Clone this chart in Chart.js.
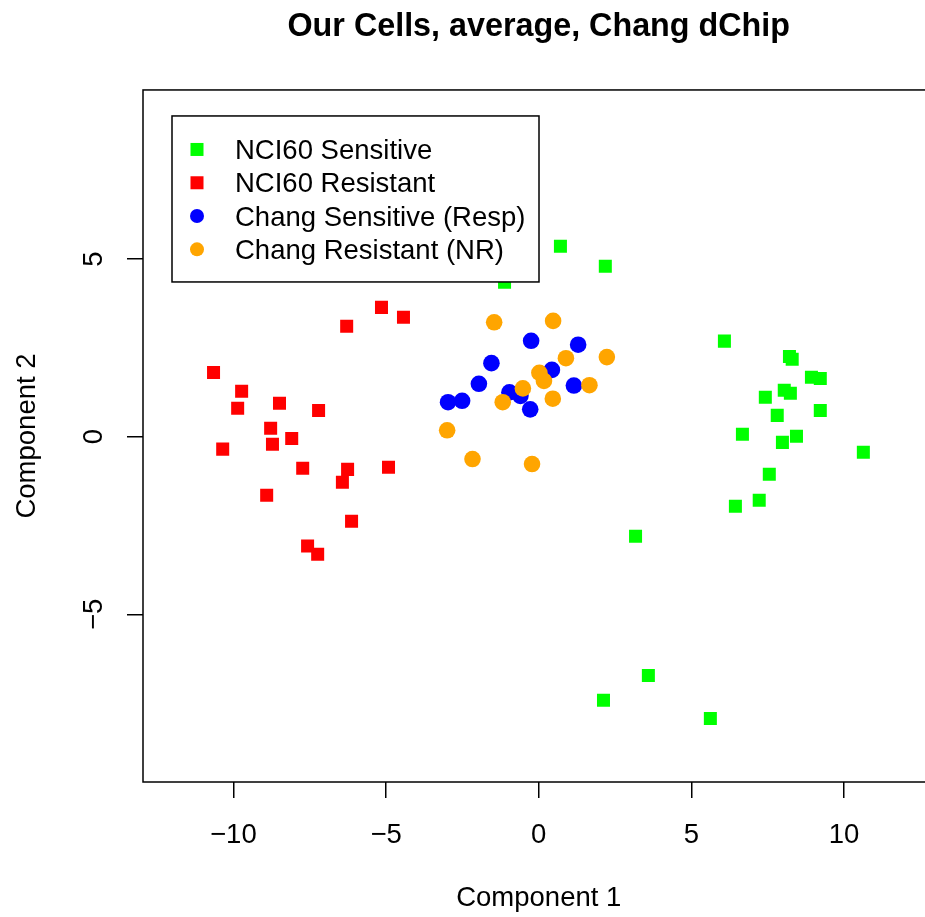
<!DOCTYPE html>
<html>
<head>
<meta charset="utf-8">
<script src="https://cdn.jsdelivr.net/npm/chart.js@4.4.1/dist/chart.umd.min.js"></script>
<style>
  body { margin: 0; background: #fff; overflow: hidden; }
</style>
</head>
<body>
<canvas id="pcaChart" width="940" height="917"></canvas>
<script>
// valores (Component 1 / Component 2)
const nciSensX = [0.71, 2.18, -1.12, 6.08, 8.21, 8.30, 8.93, 9.22, 8.04, 8.24, 7.42, 7.81, 9.22, 6.67, 8.44, 7.98, 10.63, 7.55, 7.22, 6.44, 3.17, 3.59, 2.12, 5.62];
const nciSensY = [5.36, 4.80, 4.35, 2.69, 2.26, 2.18, 1.67, 1.64, 1.31, 1.22, 1.11, 0.60, 0.74, 0.07, 0.01, -0.16, -0.44, -1.06, -1.79, -1.96, -2.80, -6.72, -7.42, -7.93];

const nciResX = [-5.15, -4.43, -6.29, -10.65, -9.73, -9.86, -8.49, -7.21, -8.78, -8.09, -8.72, -10.35, -7.73, -6.26, -4.92, -6.43, -8.91, -6.13, -7.57, -7.24];
const nciResY = [3.64, 3.36, 3.11, 1.81, 1.28, 0.80, 0.94, 0.74, 0.24, -0.05, -0.21, -0.35, -0.89, -0.92, -0.86, -1.28, -1.65, -2.38, -3.08, -3.31];

const changSensX = [-0.25, 1.29, -1.55, 0.43, -1.96, -0.96, -0.60, 1.15, -2.51, -2.97, -0.28];
const changSensY = [2.70, 2.59, 2.07, 1.88, 1.49, 1.25, 1.15, 1.44, 1.01, 0.97, 0.77];

const changResX = [-1.46, 0.47, 2.23, 0.89, 0.02, 0.17, 1.66, -0.52, -1.18, 0.46, -3.00, -2.17, -0.22];
const changResY = [3.22, 3.26, 2.24, 2.21, 1.80, 1.57, 1.45, 1.36, 0.97, 1.07, 0.18, -0.63, -0.77];

const grupos = ["NCI60 Sensitive", "NCI60 Resistant", "Chang Sensitive (Resp)", "Chang Resistant (NR)"];
const xTicks = [-10, -5, 0, 5, 10];
const yTicks = [-5, 0, 5];

const FUENTE = "'Liberation Sans', Arial, Helvetica, sans-serif";

function puntos(xs, ys) {
  return xs.map((x, i) => ({ x, y: ys[i] }));
}

function etiqueta(v) {
  return v < 0 ? "\u2212" + Math.abs(v) : String(v);
}

const cajaR = {
  id: "cajaR",
  afterDatasetsDraw(chart) {
    const { ctx, chartArea } = chart;
    const yScale = chart.scales.y;

    ctx.save();
    // marco del grafico
    ctx.strokeStyle = "#000";
    ctx.lineWidth = 1.5;
    ctx.strokeRect(chartArea.left, chartArea.top, chartArea.right - chartArea.left, chartArea.bottom - chartArea.top);

    // etiquetas del eje y giradas
    ctx.fillStyle = "#000";
    ctx.font = "27.5px " + FUENTE;
    ctx.textAlign = "center";
    ctx.textBaseline = "middle";
    yScale.ticks.forEach(t => {
      const py = yScale.getPixelForValue(t.value);
      ctx.save();
      ctx.translate(94, py);
      ctx.rotate(-Math.PI / 2);
      ctx.fillText(etiqueta(t.value), 0, 0);
      ctx.restore();
    });

    // leyenda
    const lx = chartArea.left + 29;
    const ly = chartArea.top + 26;
    ctx.fillStyle = "#fff";
    ctx.fillRect(lx, ly, 367, 166);
    ctx.strokeRect(lx, ly, 367, 166);

    chart.data.datasets.forEach((ds, i) => {
      const cy = ly + 33.5 + i * 33.3;
      const cx = lx + 25;
      ctx.fillStyle = ds.backgroundColor;
      if (ds.pointStyle === "rect") {
        ctx.fillRect(cx - 6.5, cy - 6.5, 13, 13);
      } else {
        ctx.beginPath();
        ctx.arc(cx, cy, 7, 0, Math.PI * 2);
        ctx.fill();
      }
      ctx.fillStyle = "#000";
      ctx.textAlign = "left";
      ctx.fillText(ds.label, lx + 63, cy + 2);
    });
    ctx.restore();
  }
};

function crearGrafico() {
  const canvas = document.getElementById("pcaChart");

  const series = [
    { x: nciSensX, y: nciSensY, color: "#00FF00", estilo: "rect", orden: 4 },
    { x: nciResX, y: nciResY, color: "#FF0000", estilo: "rect", orden: 3 },
    { x: changSensX, y: changSensY, color: "#0000FF", estilo: "circle", orden: 2 },
    { x: changResX, y: changResY, color: "#FFA500", estilo: "circle", orden: 1 }
  ];

  new Chart(canvas, {
    type: "scatter",
    data: {
      datasets: series.map((s, i) => ({
        label: grupos[i],
        data: puntos(s.x, s.y),
        backgroundColor: s.color,
        borderWidth: 0,
        pointStyle: s.estilo,
        pointRadius: s.estilo === "rect" ? 9.2 : 8.3,
        order: s.orden
      }))
    },
    options: {
      responsive: false,
      animation: false,
      devicePixelRatio: 1,
      layout: { autoPadding: false, padding: { top: 0, left: 0, right: 5.5, bottom: 0 } },
      plugins: {
        legend: { display: false },
        tooltip: { enabled: false },
        title: {
          display: true,
          text: "Our Cells, average, Chang dChip",
          fullSize: false,
          color: "#000",
          font: { family: FUENTE, size: 32.3, weight: "bold", lineHeight: 1.2 },
          padding: { top: 7.6, bottom: 43.6 }
        }
      },
      scales: {
        x: {
          type: "linear",
          min: -12.96,
          max: 12.96,
          afterFit: scale => { scale.height = 135; },
          afterBuildTicks: scale => { scale.ticks = xTicks.map(v => ({ value: v })); },
          border: { display: false },
          grid: { drawOnChartArea: false, drawTicks: true, tickLength: 16, color: "#000", lineWidth: 1.5 },
          ticks: {
            color: "#000",
            padding: 20.5,
            maxRotation: 0,
            font: { family: FUENTE, size: 27.5, lineHeight: 1.2 },
            callback: value => etiqueta(value)
          },
          title: {
            display: true,
            text: "Component 1",
            color: "#000",
            font: { family: FUENTE, size: 27.5, lineHeight: 1.2 },
            padding: { top: 0, bottom: 2.5 }
          }
        },
        y: {
          type: "linear",
          min: -9.72,
          max: 9.76,
          afterFit: scale => { scale.width = 143; },
          afterBuildTicks: scale => { scale.ticks = yTicks.map(v => ({ value: v })); },
          border: { display: false },
          grid: { drawOnChartArea: false, drawTicks: true, tickLength: 16, color: "#000", lineWidth: 1.5 },
          ticks: { display: false },
          title: {
            display: true,
            text: "Component 2",
            color: "#000",
            font: { family: FUENTE, size: 27.5, lineHeight: 1.2 },
            padding: { top: 10.5, bottom: 0 }
          }
        }
      }
    },
    plugins: [cajaR]
  });
}

document.addEventListener("DOMContentLoaded", crearGrafico);
</script>
</body>
</html>
